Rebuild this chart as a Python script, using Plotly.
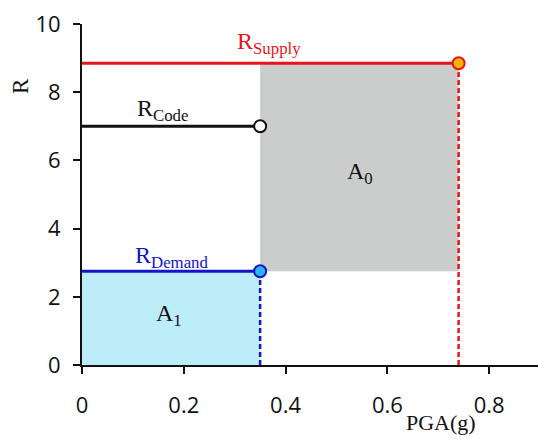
import plotly.graph_objects as go

# ---- data ----
pga_code = 0.35
pga_demand = 0.35
pga_supply = 0.74
r_code = 7.0
r_demand = 2.75
r_supply = 8.85

x_ticks = [0, 0.2, 0.4, 0.6, 0.8]
x_ticklabels = ["0", "0.2", "0.4", "0.6", "0.8"]
y_ticks = [0, 2, 4, 6, 8, 10]
y_ticklabels = ["0", "2", "4", "6", "8", "10"]

RED = "#e8141c"
BLUE = "#1414c8"
BLACK = "#111111"

W, H = 538, 439
L, R, T, B = 82, 0, 24, 74
pw, ph = W - L - R, H - T - B

fig = go.Figure()

# A0 gray area
fig.add_trace(go.Scatter(
    x=[pga_code, pga_supply, pga_supply, pga_code, pga_code],
    y=[r_demand, r_demand, r_supply, r_supply, r_demand],
    fill="toself", fillcolor="#cbcccc", mode="none", hoverinfo="skip"))
# A1 light-blue area
fig.add_trace(go.Scatter(
    x=[0, pga_demand, pga_demand, 0, 0],
    y=[0, 0, r_demand, r_demand, 0],
    fill="toself", fillcolor="#bdedf9", mode="none", hoverinfo="skip"))

# dashed verticals
fig.add_trace(go.Scatter(x=[pga_supply, pga_supply], y=[0, r_supply], mode="lines",
                         line=dict(color=RED, width=2.5, dash="5px,3px")))
fig.add_trace(go.Scatter(x=[pga_demand, pga_demand], y=[0, r_demand], mode="lines",
                         line=dict(color=BLUE, width=2.5, dash="5px,3px")))

# horizontal lines
fig.add_trace(go.Scatter(x=[0, pga_supply], y=[r_supply, r_supply], mode="lines",
                         line=dict(color=RED, width=3)))
fig.add_trace(go.Scatter(x=[0, pga_code], y=[r_code, r_code], mode="lines",
                         line=dict(color=BLACK, width=3)))
fig.add_trace(go.Scatter(x=[0, pga_demand], y=[r_demand, r_demand], mode="lines",
                         line=dict(color=BLUE, width=3)))

# end markers
fig.add_trace(go.Scatter(x=[pga_supply], y=[r_supply], mode="markers",
                         marker=dict(size=12, color="#f8b400", line=dict(color=RED, width=2))))
fig.add_trace(go.Scatter(x=[pga_code], y=[r_code], mode="markers",
                         marker=dict(size=12, color="white", line=dict(color=BLACK, width=2))))
fig.add_trace(go.Scatter(x=[pga_demand], y=[r_demand], mode="markers",
                         marker=dict(size=12, color="#2db4f2", line=dict(color=BLUE, width=2))))

serif = "Liberation Serif, Times New Roman, serif"
ann = [
    dict(x=0.368, y=9.44, text="R<sub>Supply</sub>", color=RED),
    dict(x=0.159, y=7.48, text="R<sub>Code</sub>", color=BLACK),
    dict(x=0.175, y=3.17, text="R<sub>Demand</sub>", color=BLUE),
    dict(x=0.547, y=5.63, text="A<sub>0</sub>", color=BLACK),
    dict(x=0.170, y=1.47, text="A<sub>1</sub>", color=BLACK),
]
for a in ann:
    fig.add_annotation(x=a["x"], y=a["y"], text=a["text"], showarrow=False,
                       xanchor="center", yanchor="middle",
                       font=dict(family=serif, size=24, color=a["color"]))

# axis titles (placed by pixel position, converted to paper coordinates)
fig.add_annotation(x=(21 - L) / pw, y=(H - B - 86) / ph, xref="paper", yref="paper",
                   text="R", showarrow=False, textangle=-90,
                   xanchor="center", yanchor="middle",
                   font=dict(family=serif, size=23, color=BLACK))
fig.add_annotation(x=(441 - L) / pw, y=(H - B - 422) / ph, xref="paper", yref="paper",
                   text="PGA(g)", showarrow=False,
                   xanchor="center", yanchor="middle",
                   font=dict(family=serif, size=22, color=BLACK))

tickfont = dict(family="Open Sans, sans-serif", size=22, color=BLACK)
fig.update_layout(
    width=W, height=H, showlegend=False,
    margin=dict(l=L, r=R, t=T, b=B),
    plot_bgcolor="white", paper_bgcolor="white",
    xaxis=dict(range=[0, 0.896], tickvals=x_ticks, ticktext=x_ticklabels,
               showgrid=False, zeroline=False, showline=True, linecolor=BLACK, linewidth=2,
               ticks="outside", ticklen=7, tickwidth=2, tickcolor=BLACK,
               tickfont=tickfont, ticklabelstandoff=13, fixedrange=True),
    yaxis=dict(range=[0, 10], tickvals=y_ticks, ticktext=y_ticklabels,
               showgrid=False, zeroline=False, showline=True, linecolor=BLACK, linewidth=2,
               ticks="outside", ticklen=7, tickwidth=2, tickcolor=BLACK,
               tickfont=tickfont, ticklabelstandoff=8, fixedrange=True),
)
fig.update_traces(cliponaxis=False, selector=dict(mode="markers"))

fig.write_html("out.html", config={"displayModeBar": False},
               post_script="document.body.style.margin='0';")
